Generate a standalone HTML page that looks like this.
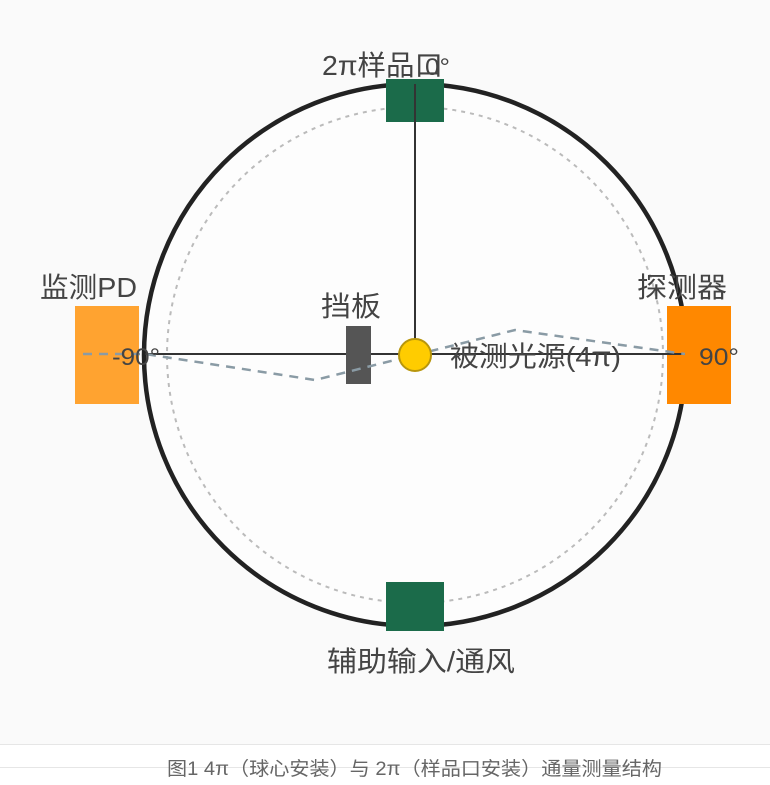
<!DOCTYPE html>
<html><head><meta charset="utf-8"><style>
body{margin:0;width:770px;height:785px;background:#fafafa;overflow:hidden;font-family:"Liberation Sans","Noto Sans CJK SC",sans-serif}
</style></head><body>
<svg width="770" height="785" style="position:absolute;left:0;top:0" font-family="Liberation Sans, Noto Sans CJK SC, sans-serif">
<rect x="0" y="744" width="770" height="41" fill="#fff"/>
<line x1="0" y1="744.5" x2="770" y2="744.5" stroke="#e6e6e6"/>
<line x1="0" y1="767.5" x2="770" y2="767.5" stroke="#e6e6e6"/>
<circle cx="415" cy="355" r="271" fill="#fdfdfd" stroke="#222" stroke-width="4.5"/>
<circle cx="415" cy="355" r="248" fill="none" stroke="#bbb" stroke-width="2" stroke-dasharray="4,5"/>
<rect x="75" y="306" width="64" height="98" fill="#ffa330"/>
<rect x="667" y="306" width="64" height="98" fill="#ff8800"/>
<rect x="386" y="79" width="58" height="43" fill="#1b6b4a"/>
<rect x="386" y="582" width="58" height="49" fill="#1b6b4a"/>
<line x1="415" y1="84" x2="415" y2="355" stroke="#333" stroke-width="2"/>
<line x1="145" y1="354" x2="685" y2="354" stroke="#333" stroke-width="2"/>
<rect x="346" y="326" width="25" height="58" fill="#555"/>
<polyline points="83,354 145,354 315,380 415,355 515,330 685,354" fill="none" stroke="#8a9ba5" stroke-width="2.5" stroke-dasharray="9,7"/>
<circle cx="415" cy="355" r="16" fill="#ffcc00" stroke="#b8960c" stroke-width="2"/>
<g fill="#444" font-size="28">
<text x="322" y="75" textLength="121" lengthAdjust="spacingAndGlyphs">2π样品口</text>
<text x="425" y="75" font-size="24" textLength="25" lengthAdjust="spacingAndGlyphs">0°</text>
<text x="40" y="297" textLength="97" lengthAdjust="spacingAndGlyphs">监测PD</text>
<text x="637" y="297" textLength="90" lengthAdjust="spacingAndGlyphs">探测器</text>
<text x="321" y="316" textLength="60" lengthAdjust="spacingAndGlyphs">挡板</text>
<text x="450" y="366" textLength="171" lengthAdjust="spacingAndGlyphs">被测光源(4π)</text>
<text x="327" y="671" textLength="188" lengthAdjust="spacingAndGlyphs">辅助输入/通风</text>
<text x="112" y="365" font-size="24" textLength="48" lengthAdjust="spacingAndGlyphs">-90°</text>
<text x="699" y="365" font-size="24" textLength="40" lengthAdjust="spacingAndGlyphs">90°</text>
<text x="167" y="775" font-size="19" fill="#666" textLength="495" lengthAdjust="spacingAndGlyphs">图1 4π（球心安装）与 2π（样品口安装）通量测量结构</text>
</g>
</svg>
</body></html>
